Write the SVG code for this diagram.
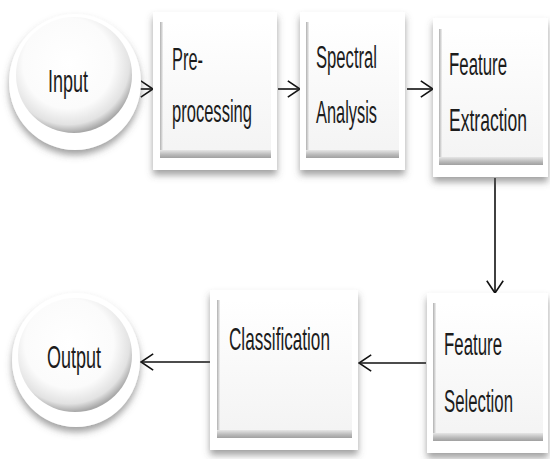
<svg xmlns="http://www.w3.org/2000/svg" width="550" height="459" viewBox="0 0 550 459">
<style>
.t{font-family:"Liberation Sans",Arial,sans-serif;font-size:31px;fill:#1c1c1c}
.out{fill:#ffffff;filter:url(#sh)}
.face{fill:url(#faceG)}
.band{fill:url(#bandG)}
.edge{fill:url(#edgeG)}
.cface{fill:url(#cG)}
.con{fill:none;stroke:#111;stroke-width:1.6;marker-end:url(#ah)}
</style>
<defs>
<filter id="sh" x="-20%" y="-20%" width="140%" height="145%">
<feGaussianBlur in="SourceAlpha" stdDeviation="3.5"/>
<feOffset dx="0" dy="5" result="b"/>
<feFlood flood-color="#555" flood-opacity="0.55"/>
<feComposite in2="b" operator="in"/>
<feMerge><feMergeNode/><feMergeNode in="SourceGraphic"/></feMerge>
</filter>
<linearGradient id="faceG" x1="0" y1="0" x2="0" y2="1">
<stop offset="0" stop-color="#ffffff"/><stop offset="1" stop-color="#f3f3f3"/>
</linearGradient>
<linearGradient id="bandG" x1="0" y1="0" x2="0" y2="1">
<stop offset="0" stop-color="#e6e6e6"/><stop offset="0.6" stop-color="#b8b8b8"/><stop offset="1" stop-color="#a0a0a0"/>
</linearGradient>
<linearGradient id="edgeG" x1="0" y1="0" x2="1" y2="0">
<stop offset="0" stop-color="#b0b0b0"/><stop offset="1" stop-color="#f0f0f0"/>
</linearGradient>
<radialGradient id="cG" cx="0.45" cy="0.4" r="0.6">
<stop offset="0" stop-color="#ffffff"/><stop offset="0.65" stop-color="#fbfbfb"/><stop offset="0.88" stop-color="#e2e2e2"/><stop offset="1" stop-color="#a8a8a8"/>
</radialGradient>
<marker id="ah" markerUnits="userSpaceOnUse" markerWidth="18" markerHeight="20" refX="13" refY="9" orient="auto">
<path d="M0.8,0.8 L13,9 L0.8,17.2" fill="none" stroke="#111" stroke-width="1.6"/>
</marker>
</defs>

<g id="connectors">
<path class="con" d="M130,89 H153"/>
<path class="con" d="M278,89 H300"/>
<path class="con" d="M407,89 H433"/>
<path class="con" d="M495,178 V293"/>
<path class="con" d="M426,363 H359"/>
<path class="con" d="M213,362 H141"/>
</g>

<g id="input">
<ellipse class="out" cx="75" cy="82" rx="66" ry="68"/>
<circle class="cface" cx="74" cy="75" r="58"/>
<text class="t" transform="translate(48,92) scale(0.58,1)">Input</text>
</g>

<g id="preprocessing">
<rect class="out" x="153" y="12" width="124" height="158"/>
<rect class="face" x="160" y="22" width="111" height="136"/>
<rect class="edge" x="160" y="22" width="3" height="136"/>
<rect class="band" x="160" y="150" width="111" height="8"/>
<text class="t" transform="translate(172,70) scale(0.529,1)">Pre-</text>
<text class="t" transform="translate(172,122) scale(0.534,1)">processing</text>
</g>

<g id="spectral">
<rect class="out" x="300" y="12" width="105" height="158"/>
<rect class="face" x="306" y="22" width="93" height="136"/>
<rect class="edge" x="306" y="22" width="3" height="136"/>
<rect class="band" x="306" y="150" width="93" height="8"/>
<text class="t" transform="translate(316,68) scale(0.537,1)">Spectral</text>
<text class="t" transform="translate(316,123) scale(0.529,1)">Analysis</text>
</g>

<g id="extraction">
<rect class="out" x="433" y="18" width="115" height="159"/>
<rect class="face" x="439" y="29" width="104" height="136"/>
<rect class="edge" x="439" y="29" width="3" height="136"/>
<rect class="band" x="439" y="157" width="104" height="8"/>
<text class="t" transform="translate(449,75) scale(0.543,1)">Feature</text>
<text class="t" transform="translate(449,131) scale(0.566,1)">Extraction</text>
</g>

<g id="selection">
<rect class="out" x="427" y="293" width="121" height="160"/>
<rect class="face" x="433" y="303" width="110" height="138"/>
<rect class="edge" x="433" y="303" width="3" height="138"/>
<rect class="band" x="433" y="433" width="110" height="8"/>
<text class="t" transform="translate(444,355) scale(0.543,1)">Feature</text>
<text class="t" transform="translate(444,412) scale(0.541,1)">Selection</text>
</g>

<g id="classification">
<rect class="out" x="210" y="290" width="148" height="160"/>
<rect class="face" x="217" y="300" width="135" height="138"/>
<rect class="edge" x="217" y="300" width="3" height="138"/>
<rect class="band" x="217" y="430" width="135" height="8"/>
<text class="t" transform="translate(229,350) scale(0.553,1)">Classification</text>
</g>

<g id="output">
<ellipse class="out" cx="76" cy="360" rx="64" ry="67"/>
<circle class="cface" cx="75" cy="355" r="57"/>
<text class="t" transform="translate(47,368) scale(0.58,1)">Output</text>
</g>
</svg>
